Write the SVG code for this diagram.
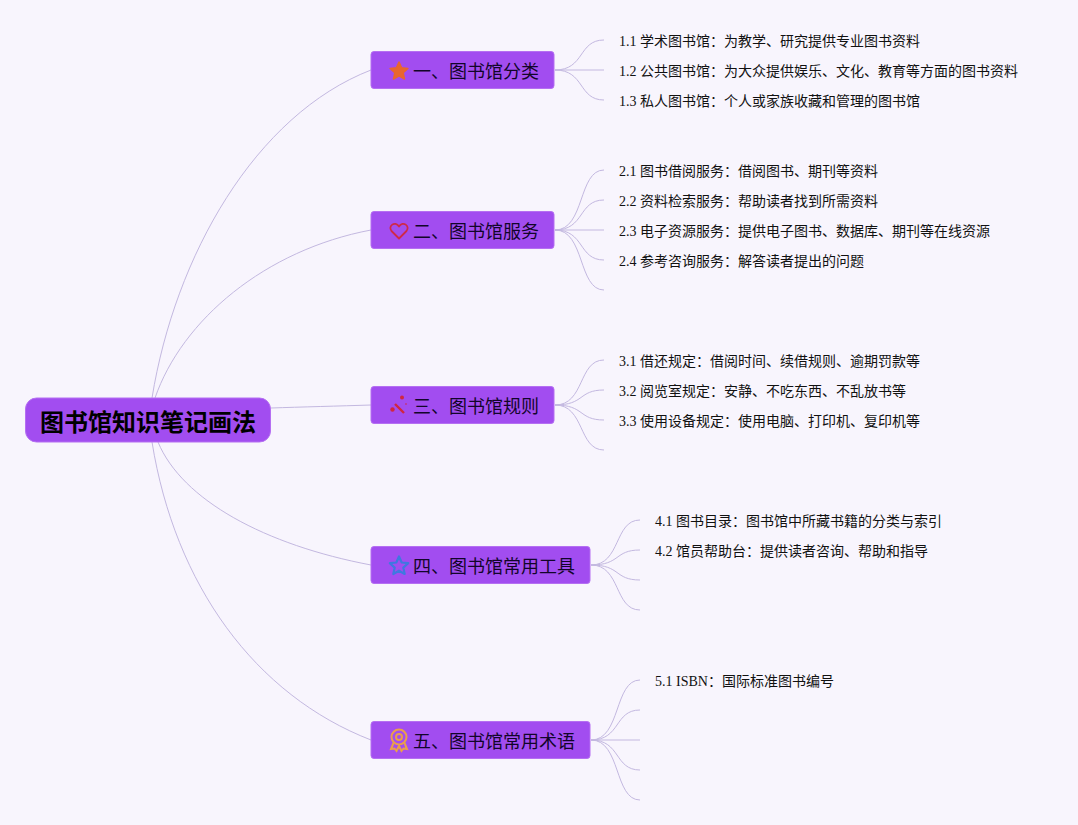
<svg xmlns="http://www.w3.org/2000/svg" width="1078" height="825" viewBox="0 0 1078 825">
<style>
text{font-family:"Liberation Serif","Noto Sans CJK SC",serif;fill:#000}
.n{fill:#a24df0;stroke:#b56ff2;stroke-width:1}
.t{font-family:"Liberation Sans","Noto Sans CJK SC",sans-serif;font-size:18px;fill:#12052a}
.l{font-size:14px;fill:#111}
.c{fill:none;stroke:#c3b8e0;stroke-width:1}
</style>
<rect width="1078" height="825" fill="#f8f5fd"/>
<g id="connectors">
<path class="c" d="M152 398C175 256 255 115 371 70"/>
<path class="c" d="M155 398C182 320 265 250 371 230"/>
<path class="c" d="M271 408C300 407 340 406 371 405"/>
<path class="c" d="M158 442C182 500 265 545 371 565"/>
<path class="c" d="M152 442C175 585 255 695 371 740"/>
<path class="c" d="M555 70C585 70 578 40 604 40M555 70H604M555 70C585 70 578 100 604 100"/>
<path class="c" d="M555 230C585 230 578 170 604 170M555 230C585 230 578 200 604 200M555 230H604M555 230C585 230 578 260 604 260M555 230C585 230 578 290 604 290"/>
<path class="c" d="M555 405C585 405 578 360 604 360M555 405C585 405 578 390 604 390M555 405C585 405 578 420 604 420M555 405C585 405 578 450 604 450"/>
<path class="c" d="M591 565C621 565 614 520 640 520M591 565C621 565 614 550 640 550M591 565C621 565 614 580 640 580M591 565C621 565 614 610 640 610"/>
<path class="c" d="M591 740C621 740 614 680 640 680M591 740C621 740 614 710 640 710M591 740H640M591 740C621 740 614 770 640 770M591 740C621 740 614 800 640 800"/>
</g>
<g id="root"><rect class="n" x="25.500" y="398" width="245" height="44" rx="11"/><text x="40" y="431" style="font-family:'Liberation Sans','Noto Sans CJK SC',sans-serif;font-size:24px;font-weight:700">图书馆知识笔记画法</text></g>
<g id="n1"><rect class="n" x="371" y="51.500" width="183" height="37" rx="3"/><path d="M399 62l2.600 5.800 6.300.7-4.700 4.300 1.300 6.200-5.500-3.200-5.500 3.200 1.300-6.200-4.700-4.300 6.300-.7z" fill="#e8662f" stroke="#e8662f" stroke-width="1.500" stroke-linejoin="round"/><text class="t" x="413" y="77.500">一、图书馆分类</text></g>
<g id="n2"><rect class="n" x="371" y="211.500" width="183" height="37" rx="3"/><path d="M399 238.500l-7.500-7.500c-4-5 3.500-10.500 7.500-4.500 4-6 11.500-.5 7.500 4.500z" fill="none" stroke="#cf2a48" stroke-width="1.800" stroke-linejoin="round"/><text class="t" x="413" y="237.500">二、图书馆服务</text></g>
<g id="n3"><rect class="n" x="371" y="386.500" width="183" height="37" rx="3"/><path d="M395 404l9 9" stroke="#d0273f" stroke-width="2.400" fill="none"/><circle cx="392.500" cy="409.500" r="2.200" fill="#d0273f"/><circle cx="402" cy="397.500" r="2" fill="#d0273f"/><circle cx="406" cy="404" r=".8" fill="#d0273f"/><text class="t" x="413" y="412.500">三、图书馆规则</text></g>
<g id="n4"><rect class="n" x="371" y="546.500" width="219" height="37" rx="3"/><path d="M399 556.500l2.700 6 6.500.7-4.900 4.400 1.400 6.400-5.700-3.300-5.700 3.300 1.400-6.400-4.900-4.400 6.500-.7z" fill="none" stroke="#3f78e0" stroke-width="2.200" stroke-linejoin="round"/><text class="t" x="413" y="572.500">四、图书馆常用工具</text></g>
<g id="n5"><rect class="n" x="371" y="721.500" width="219" height="37" rx="3"/><g fill="none" stroke="#eaa04a" stroke-width="2"><circle cx="399" cy="737" r="7.500"/><circle cx="399" cy="737" r="3"/><path d="M393.500 743l-2.500 6 3.500-.5 2 2.500 2.500-5 2.500 5 2-2.500 3.500.5-2.500-6"/></g><text class="t" x="413" y="747.500">五、图书馆常用术语</text></g>
<g id="leaves">
<text class="l" x="619" y="46">1.1 学术图书馆：为教学、研究提供专业图书资料</text>
<text class="l" x="619" y="76">1.2 公共图书馆：为大众提供娱乐、文化、教育等方面的图书资料</text>
<text class="l" x="619" y="106">1.3 私人图书馆：个人或家族收藏和管理的图书馆</text>
<text class="l" x="619" y="176">2.1 图书借阅服务：借阅图书、期刊等资料</text>
<text class="l" x="619" y="206">2.2 资料检索服务：帮助读者找到所需资料</text>
<text class="l" x="619" y="236">2.3 电子资源服务：提供电子图书、数据库、期刊等在线资源</text>
<text class="l" x="619" y="266">2.4 参考咨询服务：解答读者提出的问题</text>
<text class="l" x="619" y="366">3.1 借还规定：借阅时间、续借规则、逾期罚款等</text>
<text class="l" x="619" y="396">3.2 阅览室规定：安静、不吃东西、不乱放书等</text>
<text class="l" x="619" y="426">3.3 使用设备规定：使用电脑、打印机、复印机等</text>
<text class="l" x="655" y="526">4.1 图书目录：图书馆中所藏书籍的分类与索引</text>
<text class="l" x="655" y="556">4.2 馆员帮助台：提供读者咨询、帮助和指导</text>
<text class="l" x="655" y="686">5.1 ISBN：国际标准图书编号</text>
</g>
</svg>
